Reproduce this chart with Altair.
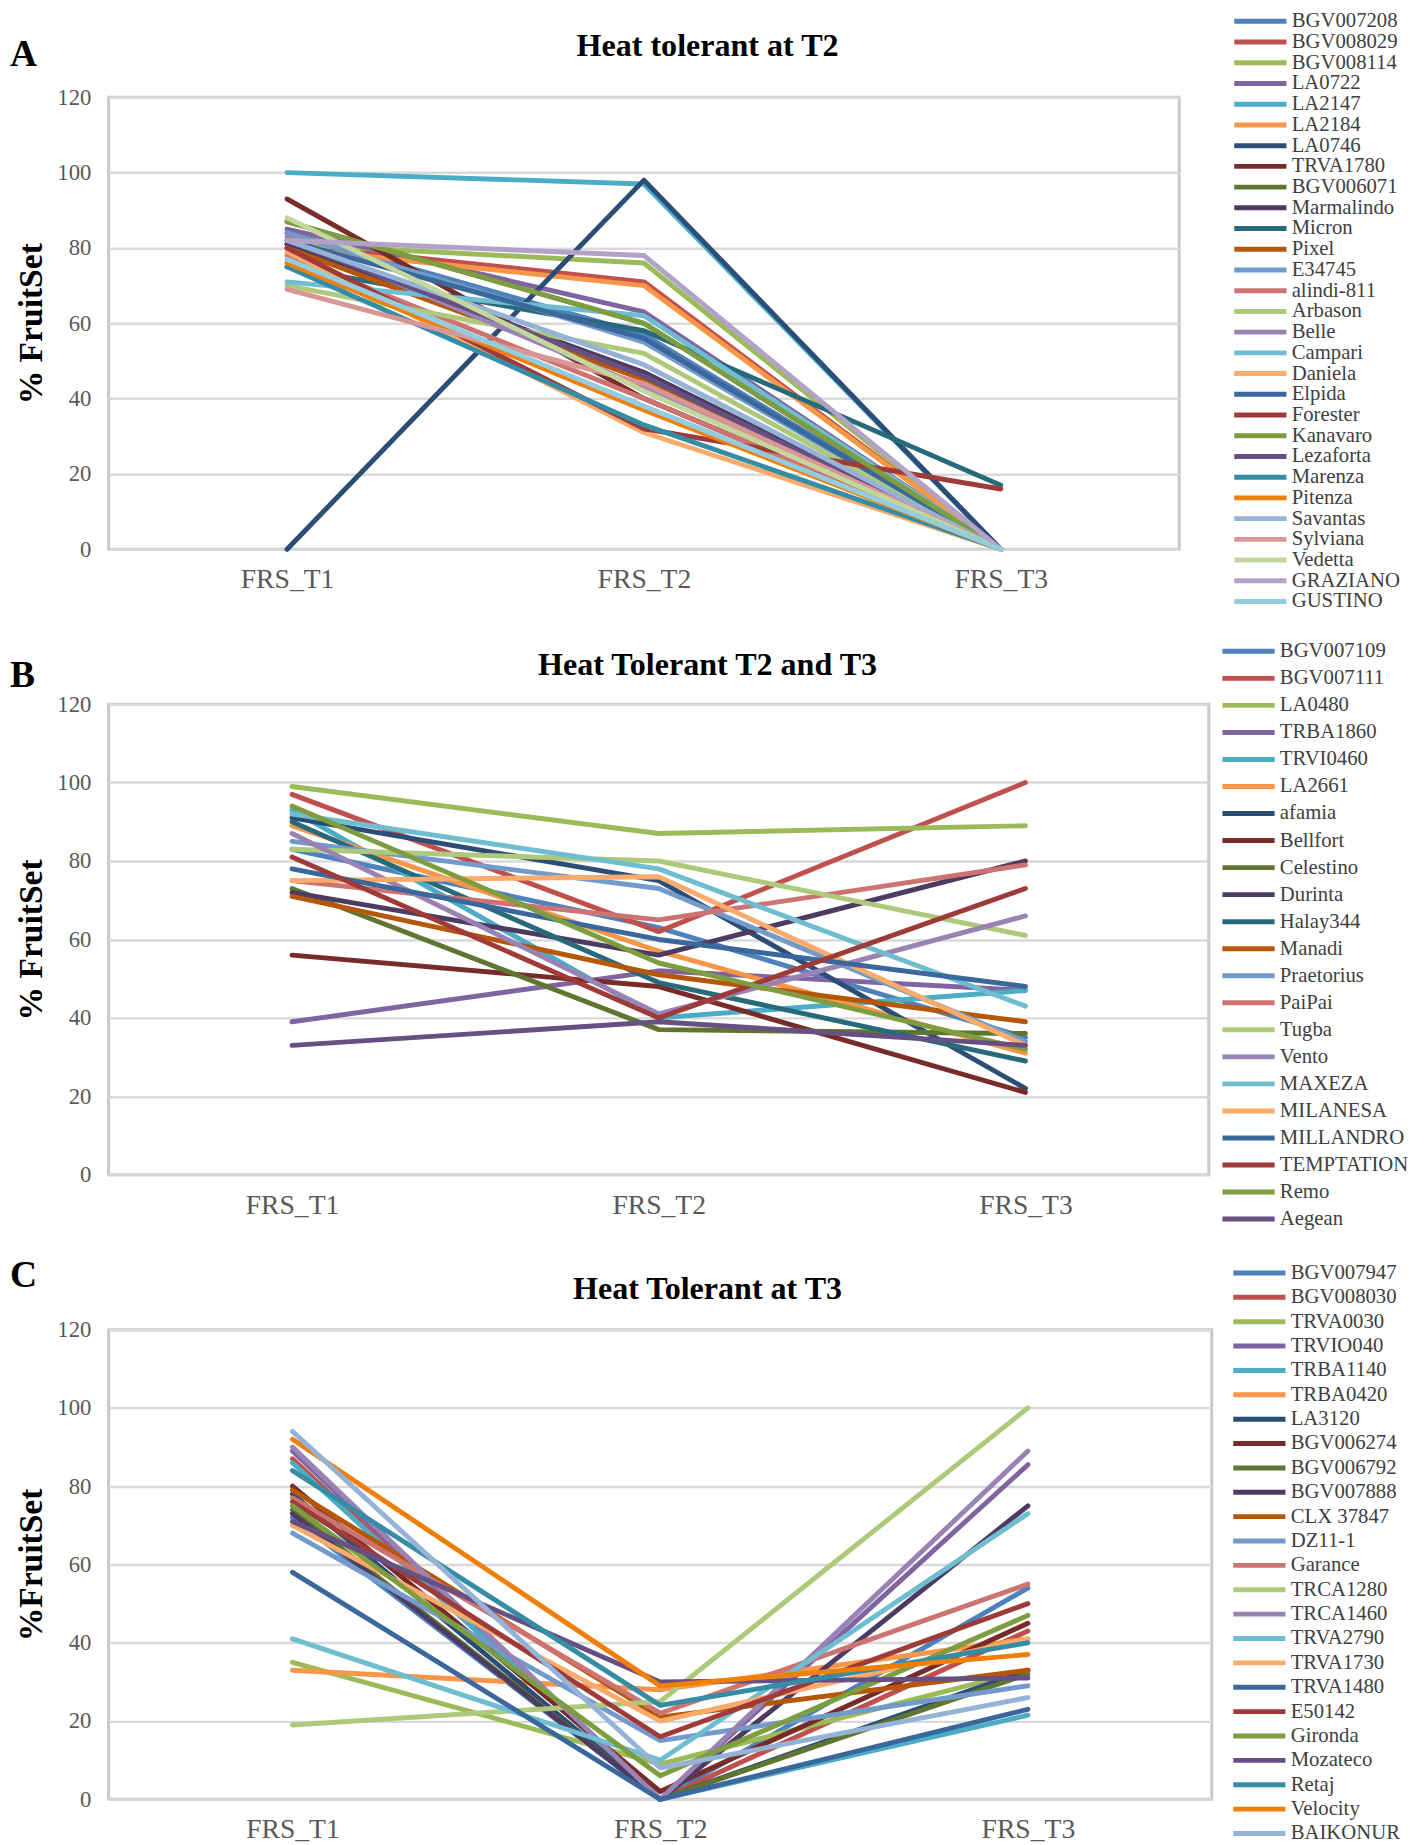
import altair as alt
import pandas as pd

FONT = "Liberation Serif"
stages = ["FRS_T1", "FRS_T2", "FRS_T3"]
y_ticks = [0, 20, 40, 60, 80, 100, 120]

# ---------------- Panel A ----------------
names_a = ["BGV007208", "BGV008029", "BGV008114", "LA0722", "LA2147", "LA2184", "LA0746",
           "TRVA1780", "BGV006071", "Marmalindo", "Micron", "Pixel", "E34745", "alindi-811",
           "Arbason", "Belle", "Campari", "Daniela", "Elpida", "Forester", "Kanavaro",
           "Lezaforta", "Marenza", "Pitenza", "Savantas", "Sylviana", "Vedetta", "GRAZIANO",
           "GUSTINO"]
t1_a = [84, 81, 81, 85, 100, 80, 0, 93, 87, 81, 75, 80, 84, 78, 70, 83, 71, 79, 82, 80, 87,
        82, 75, 76, 82, 69, 88, 82, 77]
t2_a = [57, 71, 76, 63, 97, 70, 98, 40, 60, 47, 58, 45, 55, 40, 52, 43, 62, 31, 56, 32, 60,
        46, 33, 37, 49, 44, 42, 78, 38]
t3_a = [0, 0, 0, 0, 0, 0, 0, 0, 0, 0, 17, 0, 0, 0, 0, 0, 0, 0, 0, 16, 0,
        0, 0, 0, 0, 0, 0, 0, 0]
colors_a = ["#4F81BD", "#C0504D", "#9BBB59", "#8064A2", "#4BACC6", "#F79646", "#2C4D75",
            "#772C2A", "#5F7530", "#4D3B62", "#276A7C", "#B65708", "#729ACA", "#CD7371",
            "#AFC97A", "#9983B5", "#6FBDD1", "#F9AB6B", "#3A679C", "#9E3B38", "#7E9D40",
            "#664F82", "#358DA5", "#F07F09", "#95B3D7", "#D99694", "#C3D69B", "#B3A2C7",
            "#93CDDD"]

# ---------------- Panel B ----------------
names_b = ["BGV007109", "BGV007111", "LA0480", "TRBA1860", "TRVI0460", "LA2661", "afamia",
           "Bellfort", "Celestino", "Durinta", "Halay344", "Manadi", "Praetorius", "PaiPai",
           "Tugba", "Vento", "MAXEZA", "MILANESA", "MILLANDRO", "TEMPTATION", "Remo", "Aegean"]
t1_b = [83, 97, 99, 39, 93, 89, 91, 56, 73, 72, 90, 71, 85, 75, 83, 87, 92, 75, 78, 81, 94, 33]
t2_b = [63, 62, 87, 52, 40, 57, 75, 48, 37, 56, 49, 51, 73, 65, 80, 41, 78, 76, 60, 40, 54, 39]
t3_b = [35, 100, 89, 47, 47, 31, 22, 21, 36, 80, 29, 39, 34, 79, 61, 66, 43, 33, 48, 73, 32, 33]
colors_b = colors_a[:22]

# ---------------- Panel C ----------------
names_c = ["BGV007947", "BGV008030", "TRVA0030", "TRVIO040", "TRBA1140", "TRBA0420", "LA3120",
           "BGV006274", "BGV006792", "BGV007888", "CLX 37847", "DZ11-1", "Garance", "TRCA1280",
           "TRCA1460", "TRVA2790", "TRVA1730", "TRVA1480", "E50142", "Gironda", "Mozateco",
           "Retaj", "Velocity", "BAIKONUR"]
t1_c = [72, 87, 35, 89, 86, 33, 78, 80, 74, 73, 79, 68, 77, 19, 90, 41, 70, 58, 76, 75, 71,
        84, 92, 94]
t2_c = [0, 0, 9, 0, 0, 28, 0, 2, 0, 0, 21, 15, 22, 25, 0, 10, 20, 0, 16, 6, 30, 24, 29, 8]
t3_c = [54, 43, 33, 85.5, 21.5, 41, 33, 45, 32, 75, 33, 29, 55, 100, 89, 73, 41, 23, 50, 47,
        31, 40, 37, 26]
colors_c = colors_a[:10] + colors_a[11:25]

titles = ["Heat tolerant at T2", "Heat Tolerant T2 and T3", "Heat Tolerant at T3"]
letters = ["A", "B", "C"]
y_titles = ["% FruitSet", "% FruitSet", "%FruitSet"]


def panel(names, t1, t2, t3, colors, width, height, title, title_y, letter, letter_y,
          ytitle, legend_x, legend_y, row_pad):
    rows = []
    for i, n in enumerate(names):
        for s, v in zip(stages, (t1[i], t2[i], t3[i])):
            rows.append({"variety": n, "stage": s, "value": v})
    df = pd.DataFrame(rows)
    lines = alt.Chart(df).mark_line(strokeWidth=5, strokeJoin="round", strokeCap="round").encode(
        x=alt.X("stage:N", sort=stages, scale=alt.Scale(type="point", padding=0.5),
                axis=alt.Axis(title=None, labelAngle=0, labelFontSize=28, labelPadding=17,
                              grid=False, domain=False, ticks=False, tickSize=0)),
        y=alt.Y("value:Q", scale=alt.Scale(domain=[0, 120], nice=False, zero=True),
                axis=alt.Axis(values=y_ticks, title=ytitle, labelFontSize=23, labelPadding=18,
                              titleFontSize=34, titleFontWeight="bold", titleColor="black",
                              titlePadding=9, grid=True, gridColor="#D9D9D9", gridWidth=2.5,
                              domain=False, ticks=False, tickSize=0)),
        color=alt.Color("variety:N", sort=names, scale=alt.Scale(domain=names, range=colors),
                        legend=alt.Legend(title=None, orient="none", legendX=legend_x,
                                          legendY=legend_y, direction="vertical",
                                          symbolType="M -2.4 0 L 7.6 0", symbolSize=112,
                                          symbolStrokeWidth=5, symbolOffset=16, labelOffset=35,
                                          labelFont=FONT, labelFontSize=21, labelColor="#404040",
                                          rowPadding=row_pad, padding=0, labelLimit=300)),
    )
    ttl = alt.Chart(pd.DataFrame({"t": [title]})).mark_text(
        font=FONT, fontSize=32.5, fontWeight="bold", align="center", baseline="middle",
        color="black").encode(text="t:N", x=alt.value(607), y=alt.value(title_y))
    let = alt.Chart(pd.DataFrame({"t": [letter]})).mark_text(
        font=FONT, fontSize=38, fontWeight="bold", align="left", baseline="middle",
        color="black").encode(text="t:N", x=alt.value(-100), y=alt.value(letter_y))
    return alt.layer(lines, ttl, let).properties(width=width, height=height)


pA = panel(names_a, t1_a, t2_a, t3_a, colors_a, 1085, 458, titles[0], -52, letters[0], -43,
           y_titles[0], 1127, -87.5, -1)
pB = panel(names_b, t1_b, t2_b, t3_b, colors_b, 1115, 477, titles[1], -40, letters[1], -28,
           y_titles[1], 1115, -64, 5.4)
pC = panel(names_c, t1_c, t2_c, t3_c, colors_c, 1118, 476, titles[2], -41, letters[2], -54,
           y_titles[2], 1126, -68, 2.7)

chart = alt.vconcat(pA, pB, pC, spacing=157, bounds="flush").resolve_scale(
    color="independent", x="independent", y="independent"
).resolve_legend(color="independent").properties(
    padding={"left": 0, "top": -11, "right": 5, "bottom": 5}
).configure_axis(
    labelFont=FONT, titleFont=FONT, labelColor="#595959"
).configure_view(stroke="#C8C8C8", strokeWidth=3)

chart.save("out.html", embed_options={"renderer": "svg", "actions": False})
